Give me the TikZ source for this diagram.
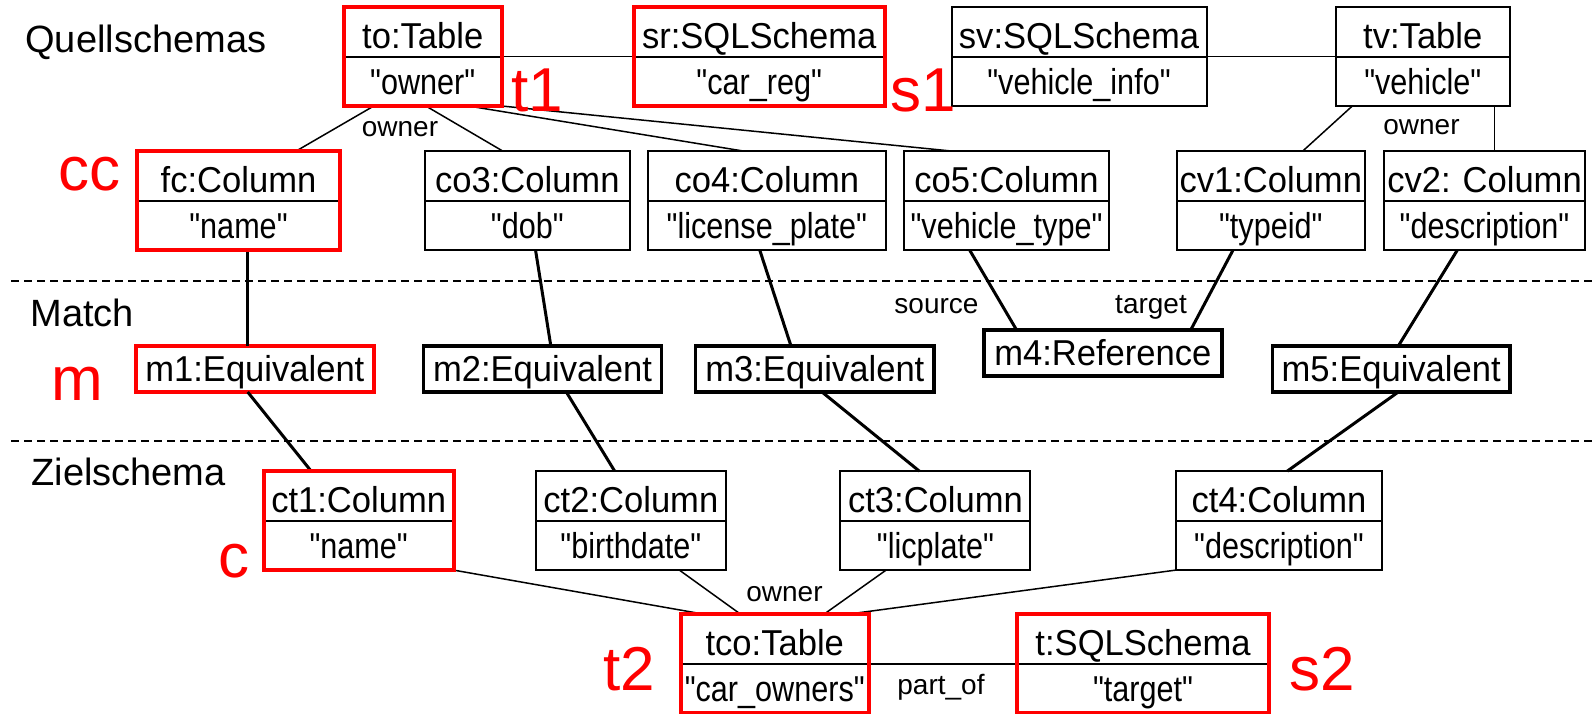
\documentclass[tikz,border=0pt]{standalone}
\usepackage{fontspec}
\setmainfont{Liberation Sans}[Ligatures=TeXOff]
\newfontfamily\titlefam{Liberation Sans}[Ligatures=TeXOff, FakeStretch=0.96]
\newfontfamily\attrfam{Liberation Sans}[Ligatures=TeXOff, FakeStretch=0.85]
\usetikzlibrary{shapes.multipart,calc}
\newcommand\boxfont{\titlefam\fontsize{18pt}{21pt}\selectfont\frenchspacing}
\newcommand\attrfont{\attrfam\fontsize{18pt}{21pt}\selectfont}
\newcommand\lblfont{\fontsize{14pt}{16pt}\selectfont}
\newcommand\sectfont{\fontsize{19pt}{22pt}\selectfont}
\newcommand\tagfont{\fontsize{31pt}{36pt}\selectfont}
\newcommand\ps{\rule[-3.75pt]{0pt}{23.75pt}}
\newcommand\pa{\rule[-5.25pt]{0pt}{23.75pt}}
\newcommand\ms{\rule[-4.6pt]{0pt}{22.1pt}}
\tikzset{
  obj/.style={rectangle split, rectangle split parts=2, draw, line width=1pt,
    inner sep=0pt, outer sep=0pt, text width=#1, align=center, font=\boxfont},
  redframe/.style={draw=red, line width=2pt},
  matchbox/.style={draw, line width=1.8pt, inner sep=0pt, outer sep=0pt,
    minimum width=#1, minimum height=23pt, font=\boxfont},
  cthin/.style={line width=0.75pt},
  cthick/.style={line width=1.5pt},
  sepline/.style={line width=1pt, dash pattern=on 4pt off 2.5pt},
  lbl/.style={font=\lblfont, inner sep=0pt, anchor=base},
  sect/.style={font=\sectfont, inner sep=0pt, anchor=base west},
  tag/.style={font=\tagfont, text=red, inner sep=0pt, anchor=base west},
}
\newcommand\obtext[2]{\ps #1\nodepart{second}\attrfont\pa #2}
\begin{document}
\begin{tikzpicture}[x=0.5pt,y=-0.5pt]
\useasboundingbox (0,0) rectangle (1594,713);

% separators
\coordinate (d1a) at (11,280.7); \coordinate (d1b) at (1594,280.7);
\coordinate (d2a) at (11,441); \coordinate (d2b) at (1594,441);
\draw[sepline] (d1a) -- (d1b);
\draw[sepline] (d2a) -- (d2b);

% section labels
\node[sect] (lq) at (25,52.7) {Quellschemas};
\node[sect] (lm) at (30,326.7) {Match};
\node[sect] (lz) at (31,485) {Zielschema};

% source schemas
\node[obj=78.9pt] (to) at (422.7,56.5) {\obtext{to:Table}{"owner"}};
\node[obj=125.5pt] (sr) at (759.2,56.5) {\obtext{sr:SQLSchema}{"car\_reg"}};
\node[obj=127.5pt] (sv) at (1079,56.5) {\obtext{sv:SQLSchema}{"vehicle\_info"}};
\node[obj=86.75pt] (tv) at (1422.75,56.5) {\obtext{tv:Table}{"vehicle"}};

\node[obj=101.3pt] (fc) at (238.5,200.5) {\obtext{fc:Column}{"name"}};
\node[obj=102.8pt] (co3) at (527.3,200.5) {\obtext{co3:Column}{"dob"}};
\node[obj=118.85pt] (co4) at (766.85,200.5) {\obtext{co4:Column}{"license\_plate"}};
\node[obj=102.5pt] (co5) at (1006.5,200.5) {\obtext{co5:Column}{"vehicle\_type"}};
\node[obj=94.25pt] (cv1) at (1270.75,200.5) {\obtext{cv1:Column}{"typeid"}};
\node[obj=100.5pt] (cv2) at (1484.5,200.5) {\obtext{cv2: Column}{"description"}};

% match
\node[matchbox=119pt, draw=red] (m1) at (254.85,369) {\ms m1:Equivalent};
\node[matchbox=119pt] (m2) at (542.5,369) {\ms m2:Equivalent};
\node[matchbox=119.35pt] (m3) at (814.85,369) {\ms m3:Equivalent};
\node[matchbox=119pt] (m4) at (1102.8,352.7) {\ms m4:Reference};
\node[matchbox=118.75pt] (m5) at (1391.15,369) {\ms m5:Equivalent};

% target schema
\node[obj=95pt] (ct1) at (358.65,520.6) {\obtext{ct1:Column}{"name"}};
\node[obj=95.15pt] (ct2) at (630.85,520.6) {\obtext{ct2:Column}{"birthdate"}};
\node[obj=95pt] (ct3) at (935.45,520.6) {\obtext{ct3:Column}{"licplate"}};
\node[obj=103.3pt] (ct4) at (1279,520.6) {\obtext{ct4:Column}{"description"}};

\node[obj=94.15pt] (tco) at (774.75,663.9) {\obtext{tco:Table}{"car\_owners"}};
\node[obj=125.85pt] (t) at (1143.05,663.9) {\obtext{t:SQLSchema}{"target"}};

% thin connectors (source)
\draw[cthin] (to.text split east) -- (sr.text split west);
\draw[cthin] (sv.text split east) -- (tv.text split west);
\draw[cthin] ($(to.south west)!0.19!(to.south east)$) -- ($(fc.north west)!0.785!(fc.north east)$);
\draw[cthin] ($(to.south west)!0.52!(to.south east)$) -- ($(co3.north west)!0.38!(co3.north east)$);
\draw[cthin] ($(to.south west)!0.79!(to.south east)$) -- ($(co4.north west)!0.40!(co4.north east)$);
\draw[cthin] (to.south east) -- ($(co5.north west)!0.23!(co5.north east)$);
\draw[cthin] ($(tv.south west)!0.094!(tv.south east)$) -- ($(cv1.north west)!0.67!(cv1.north east)$);
\coordinate (tvb) at ($(tv.south west)!0.914!(tv.south east)$);
\draw[cthin] (tvb) -- (tvb |- cv2.north);

% thick connectors
\coordinate (fcb) at ($(fc.south west)!0.543!(fc.south east)$);
\draw[cthick] (fcb) -- (fcb |- m1.north);
\draw[cthick] ($(co3.south west)!0.54!(co3.south east)$) -- ($(m2.north west)!0.535!(m2.north east)$);
\draw[cthick] ($(co4.south west)!0.47!(co4.south east)$) -- ($(m3.north west)!0.40!(m3.north east)$);
\draw[cthick] ($(co5.south west)!0.32!(co5.south east)$) -- ($(m4.north west)!0.137!(m4.north east)$);
\draw[cthick] ($(cv1.south west)!0.30!(cv1.south east)$) -- ($(m4.north west)!0.87!(m4.north east)$);
\draw[cthick] ($(cv2.south west)!0.365!(cv2.south east)$) -- ($(m5.north west)!0.53!(m5.north east)$);
\draw[cthick] ($(m1.south west)!0.47!(m1.south east)$) -- ($(ct1.north west)!0.25!(ct1.north east)$);
\draw[cthick] ($(m2.south west)!0.60!(m2.south east)$) -- ($(ct2.north west)!0.415!(ct2.north east)$);
\draw[cthick] ($(m3.south west)!0.53!(m3.south east)$) -- ($(ct3.north west)!0.415!(ct3.north east)$);
\draw[cthick] ($(m5.south west)!0.53!(m5.south east)$) -- ($(ct4.north west)!0.54!(ct4.north east)$);

% thin connectors (target)
\draw[cthin] (ct1.south east) -- ($(tco.north west)!0.13!(tco.north east)$);
\draw[cthin] ($(ct2.south west)!0.755!(ct2.south east)$) -- ($(tco.north west)!0.32!(tco.north east)$);
\draw[cthin] ($(ct3.south west)!0.24!(ct3.south east)$) -- ($(tco.north west)!0.76!(tco.north east)$);
\draw[cthin] (ct4.south west) -- ($(tco.north west)!0.88!(tco.north east)$);
\draw[cthin] (tco.text split east) -- (t.text split west);

% red frames
\draw[redframe] (to.north west) rectangle (to.south east);
\draw[redframe] (sr.north west) rectangle (sr.south east);
\draw[redframe] (fc.north west) rectangle (fc.south east);
\draw[redframe] (ct1.north west) rectangle (ct1.south east);
\draw[redframe] (tco.north west) rectangle (tco.south east);
\draw[redframe] (t.north west) rectangle (t.south east);

% connector labels
\node[lbl] (l1) at (400,136) {owner};
\node[lbl] (l2) at (1421.5,134) {owner};
\node[lbl] (l3) at (784.5,601) {owner};
\node[lbl] (l4) at (936.5,313) {source};
\node[lbl] (l5) at (1151,313) {target};
\node[lbl] (l6) at (941,694) {part\_of};

% red tags
\node[tag] (g1) at (511,111.7) {t1};
\node[tag] (g2) at (890.5,111.7) {s1};
\node[tag] (g3) at (58,190) {cc};
\node[tag] (g4) at (51,400) {m};
\node[tag] (g5) at (218,577) {c};
\node[tag] (g6) at (603,690) {t2};
\node[tag] (g7) at (1289,690) {s2};
\end{tikzpicture}
\end{document}
